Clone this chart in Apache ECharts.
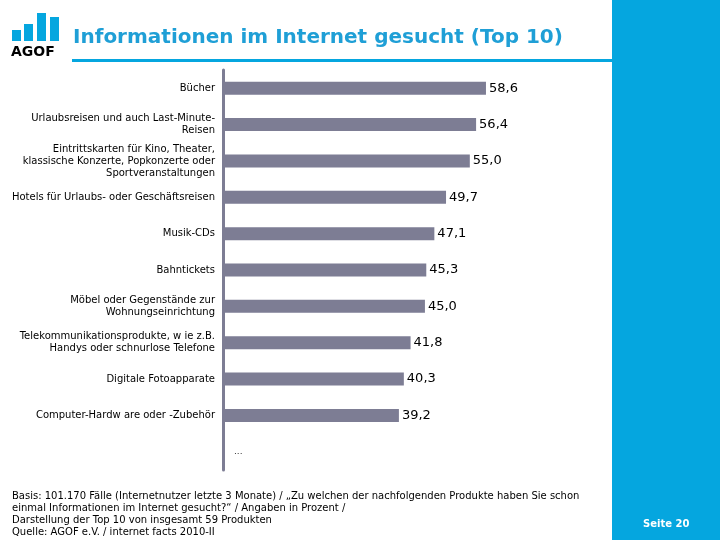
<!DOCTYPE html>
<html>
<head>
<meta charset="utf-8">
<script src="https://cdn.jsdelivr.net/npm/echarts@6/dist/echarts.min.js"></script>
<style>
html,body{margin:0;padding:0;background:#fff;}
#chart{width:720px;height:540px;}
</style>
</head>
<body>
<div id="chart"></div>
<script>
const categories = [
  "Bücher",
  "Urlaubsreisen und auch Last-Minute-\nReisen",
  "Eintrittskarten für Kino, Theater,\nklassische Konzerte, Popkonzerte oder\nSportveranstaltungen",
  "Hotels für Urlaubs- oder Geschäftsreisen",
  "Musik-CDs",
  "Bahntickets",
  "Möbel oder Gegenstände zur\nWohnungseinrichtung",
  "Telekommunikationsprodukte, w ie z.B.\nHandys oder schnurlose Telefone",
  "Digitale Fotoapparate",
  "Computer-Hardw are oder -Zubehör",
  ""
];
const values = [58.6, 56.4, 55.0, 49.7, 47.1, 45.3, 45.0, 41.8, 40.3, 39.2, 0];
const titleText = "Informationen im Internet gesucht (Top 10)";
const footerLines = [
  "Basis: 101.170 Fälle (Internetnutzer letzte 3 Monate) / „Zu welchen der nachfolgenden Produkte haben Sie schon",
  "einmal Informationen im Internet gesucht?“ / Angaben in Prozent /",
  "Darstellung der Top 10 von insgesamt 59 Produkten",
  "Quelle: AGOF e.V. / internet facts 2010-II"
];
const pageLabel = "Seite 20";

const BLUE = "#05a6df";
const BAR = "#7d7d94";
const FONT = "DejaVu Sans";

const chart = echarts.init(document.getElementById('chart'));
const option = {
  animation: false,
  backgroundColor: "#fff",
  grid: {left: 223, top: 70, height: 400, right: 138},
  xAxis: {type: 'value', min: 0, max: 80, show: false},
  yAxis: {
    type: 'category', inverse: true, data: categories,
    axisLine: {show: true, lineStyle: {color: BAR, width: 3}},
    axisTick: {show: false},
    axisLabel: {fontFamily: FONT, fontSize: 10, color: "#000", margin: 8, lineHeight: 12, align: 'right'}
  },
  series: [{
    type: 'bar', barWidth: 13,
    data: values,
    itemStyle: {color: BAR},
    label: {
      show: true, position: 'right', distance: 3,
      fontFamily: FONT, fontSize: 13, color: "#000",
      formatter: p => p.dataIndex === values.length - 1 ? "{d|...}" : p.value.toFixed(1).replace('.', ','),
      rich: {d: {fontFamily: FONT, fontSize: 9, color: "#333", padding: [0, 0, 0, 8]}}
    }
  }],
  graphic: [
    {type: 'rect', shape: {x: 612, y: 0, width: 108, height: 540}, style: {fill: BLUE}},
    {type: 'rect', shape: {x: 72, y: 59, width: 540, height: 3}, style: {fill: BLUE}},
    {type: 'rect', shape: {x: 12, y: 30, width: 9, height: 11}, style: {fill: BLUE}},
    {type: 'rect', shape: {x: 24, y: 24, width: 9, height: 17}, style: {fill: BLUE}},
    {type: 'rect', shape: {x: 37, y: 13, width: 9, height: 28}, style: {fill: BLUE}},
    {type: 'rect', shape: {x: 50, y: 17, width: 9, height: 24}, style: {fill: BLUE}},
    {type: 'text', left: 11, top: 45, style: {text: "AGOF", font: "bold 14px " + FONT, fill: "#000"}},
    {type: 'text', left: 73, top: 28, style: {text: titleText, font: "bold 20px " + FONT, fill: "#1f9fd6"}},
    {type: 'text', left: 12, top: 490, style: {text: footerLines.join("\n"), font: "10px " + FONT, fill: "#000", lineHeight: 12}},
    {type: 'text', left: 643, top: 519, style: {text: pageLabel, font: "bold 10px " + FONT, fill: "#fff"}}
  ]
};
chart.setOption(option);
</script>
</body>
</html>
